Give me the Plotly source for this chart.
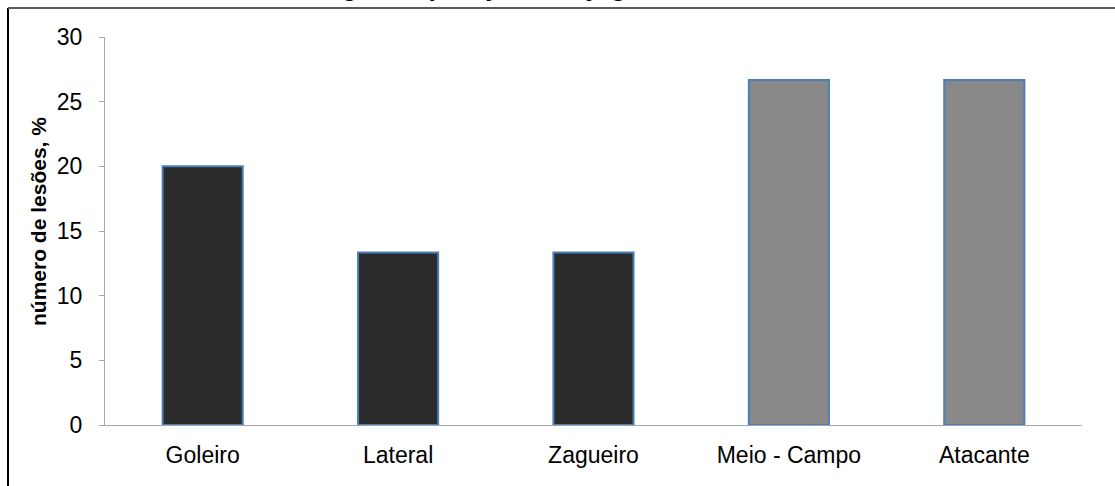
import plotly.graph_objects as go

categories = ["Goleiro", "Lateral", "Zagueiro", "Meio - Campo", "Atacante"]
values = [20.0, 13.33, 13.33, 26.67, 26.67]
bar_colors = ["#2b2b2b", "#2b2b2b", "#2b2b2b", "#888888", "#888888"]
y_ticks = [0, 5, 10, 15, 20, 25, 30]
y_title = "número de lesões, %"
chart_title = "Lesões segundo posição dos jogadores"

W, H = 1115, 486
L, R, T, B = 105, 33, 37, 61
pw, ph = W - L - R, H - T - B

def px_x(x):
    return (x - L) / pw

def px_y(y):
    return 1 - (y - T) / ph

fig = go.Figure()
fig.add_trace(go.Bar(
    x=categories, y=values, width=0.41,
    marker=dict(color=bar_colors, line=dict(color="#4a7ebb", width=2)),
))

fig.update_layout(
    width=W, height=H,
    margin=dict(l=L, r=R, t=T, b=B),
    paper_bgcolor="white", plot_bgcolor="white",
    showlegend=False,
    font=dict(family="Liberation Sans, Arial, sans-serif", color="#000000"),
)
fig.update_yaxes(
    range=[0, 30], tickvals=y_ticks, showgrid=False, zeroline=False,
    showline=True, linecolor="#a6a6a6", linewidth=1,
    ticks="outside", ticklen=5, tickcolor="#a6a6a6",
    tickfont=dict(size=23, color="#000000"), ticklabelstandoff=12,
)
fig.update_xaxes(
    showgrid=False, showline=True, linecolor="#a6a6a6", linewidth=1,
    ticks="", tickfont=dict(size=23, color="#000000"), ticklabelstandoff=9,
)

fig.add_annotation(
    text="<b>" + y_title + "</b>", textangle=-90, xref="paper", yref="paper",
    x=px_x(38), y=px_y(222), showarrow=False,
    font=dict(size=21, color="#000000", family="Liberation Sans, Arial, sans-serif"),
    xanchor="center", yanchor="middle",
)
fig.add_annotation(
    text="<b>" + chart_title + "</b>", xref="paper", yref="paper",
    x=px_x(214), y=px_y(4), showarrow=False,
    font=dict(size=26, color="#000000"), xanchor="left", yanchor="bottom",
)

# outer frame
fig.add_shape(type="line", xref="paper", yref="paper",
              x0=px_x(8), x1=px_x(8), y0=px_y(8), y1=px_y(H + 10),
              line=dict(color="#000000", width=2))
fig.add_shape(type="line", xref="paper", yref="paper",
              x0=px_x(8), x1=px_x(W + 10), y0=px_y(8), y1=px_y(8),
              line=dict(color="#595959", width=2))

fig.write_html("out.html")
